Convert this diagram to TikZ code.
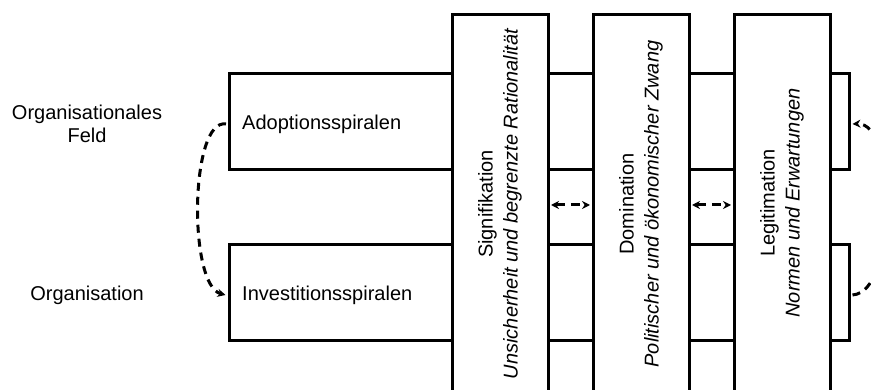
\documentclass[tikz,border=0pt]{standalone}
\usepackage{fontspec}
\setmainfont{Liberation Sans}
\usetikzlibrary{arrows.meta}
\begin{document}
\begin{tikzpicture}[x=1pt,y=-1pt,
  box/.style={draw,line width=3pt,fill=white,inner sep=0pt},
  lbl/.style={font=\fontsize{20}{23}\selectfont,inner sep=0pt,align=center},
  vlbl/.style={font=\fontsize{20}{25}\selectfont,align=center,rotate=90,inner sep=0pt},
  darr/.style={line width=3pt,dash pattern=on 8pt off 6pt,-{Stealth[length=8pt,width=8pt]}},
  ddarr/.style={darr,{Stealth[length=8pt,width=8pt]}-{Stealth[length=8pt,width=8pt]},shorten >=1.5pt,shorten <=1.5pt,dash pattern=on 9pt off 6pt},
]
\useasboundingbox (0,0) rectangle (871,390);
\clip (0,0) rectangle (871,390);
% horizontal bands
\node[box,minimum width=620pt,minimum height=96pt] (band1) at (539,121.5) {};
\node[box,minimum width=620pt,minimum height=96pt] (band2) at (539,293) {};
% columns
\node[box,minimum width=96pt,minimum height=380pt] (col1) at (500,205) {};
\node[box,minimum width=96pt,minimum height=380pt] (col2) at (641,205) {};
\node[box,minimum width=96pt,minimum height=380pt] (col3) at (782,205) {};
% labels
\node[lbl] (feld) at (87,124) {Organisationales\\Feld};
\node[lbl] (org) at (87,295) {Organisation};
\node[lbl,anchor=west] (adopt) at (242,124) {Adoptionsspiralen};
\node[lbl,anchor=west] (invest) at (242,295) {Investitionsspiralen};
\node[vlbl] (t1) at (500,204) {Signifikation\\\itshape Unsicherheit und begrenzte  Rationalität};
\node[vlbl] (t2) at (641,204) {Domination\\\itshape Politischer und ökonomischer Zwang};
\node[vlbl] (t3) at (782,203) {Legitimation\\\itshape Normen und Erwartungen};
% connector end points
\coordinate (lt) at (band1.west |- adopt.west);
\coordinate (lb) at (band2.west |- invest.west);
\coordinate (rt) at (band1.east |- adopt.west);
\coordinate (rb) at (band2.east |- invest.west);
% dashed arrows
\draw[darr] ([xshift=-1.5pt]lt) .. controls (190,118) and (188,285) .. ([xshift=-2pt]lb);
\draw[darr] ([xshift=2pt]rb) .. controls (898,292) and (898,122) .. ([xshift=2pt]rt);
\draw[ddarr] (col1.east) -- (col2.west);
\draw[ddarr] (col2.east) -- (col3.west);
\end{tikzpicture}
\end{document}
